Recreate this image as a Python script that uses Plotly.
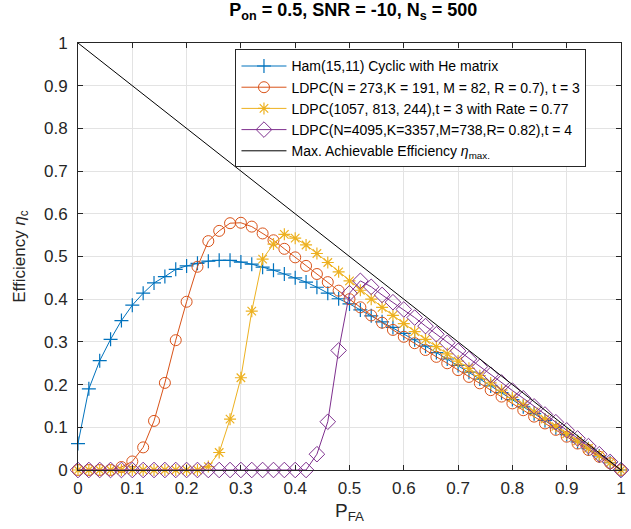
import plotly.graph_objects as go

pfa = [0.00, 0.02, 0.04, 0.06, 0.08, 0.10, 0.12, 0.14, 0.16, 0.18,
       0.20, 0.22, 0.24, 0.26, 0.28, 0.30, 0.32, 0.34, 0.36, 0.38,
       0.40, 0.42, 0.44, 0.46, 0.48, 0.50, 0.52, 0.54, 0.56, 0.58,
       0.60, 0.62, 0.64, 0.66, 0.68, 0.70, 0.72, 0.74, 0.76, 0.78,
       0.80, 0.82, 0.84, 0.86, 0.88, 0.90, 0.92, 0.94, 0.96, 0.98, 1.00]

ham = [0.062, 0.19, 0.256, 0.306, 0.35, 0.386, 0.414, 0.438, 0.453, 0.47,
       0.478, 0.484, 0.489, 0.491, 0.491, 0.487, 0.482, 0.475, 0.468, 0.459,
       0.45, 0.44, 0.428, 0.414, 0.401, 0.389, 0.375, 0.361, 0.347, 0.334,
       0.32, 0.305, 0.29, 0.275, 0.26, 0.245, 0.229, 0.213, 0.197, 0.181,
       0.165, 0.148, 0.132, 0.116, 0.099, 0.083, 0.066, 0.05, 0.033, 0.017, 0.0]

ldpc273 = [0, 0, 0, 0, 0.007, 0.02, 0.053, 0.115, 0.204, 0.304,
           0.394, 0.476, 0.536, 0.56, 0.578, 0.579, 0.57, 0.554, 0.538, 0.518,
           0.498, 0.478, 0.459, 0.44, 0.42, 0.40, 0.381, 0.362, 0.345, 0.328,
           0.312, 0.297, 0.281, 0.265, 0.25, 0.234, 0.218, 0.203, 0.187, 0.172,
           0.156, 0.14, 0.125, 0.109, 0.094, 0.078, 0.062, 0.047, 0.031, 0.016, 0.0]

ldpc1057 = [0, 0, 0, 0, 0, 0, 0, 0, 0, 0,
            0, 0, 0.008, 0.041, 0.119, 0.216, 0.372, 0.494, 0.529, 0.552,
            0.543, 0.527, 0.507, 0.486, 0.464, 0.443, 0.421, 0.40, 0.381, 0.362,
            0.343, 0.324, 0.306, 0.289, 0.272, 0.255, 0.238, 0.221, 0.204, 0.187,
            0.17, 0.153, 0.136, 0.119, 0.102, 0.085, 0.068, 0.051, 0.034, 0.017, 0.0]

ldpc4095 = [0, 0, 0, 0, 0, 0, 0, 0, 0, 0,
            0, 0, 0, 0, 0, 0, 0, 0, 0, 0,
            0, 0, 0.037, 0.113, 0.28, 0.414, 0.443, 0.429, 0.41, 0.393,
            0.376, 0.357, 0.337, 0.318, 0.298, 0.279, 0.26, 0.242, 0.223, 0.205,
            0.186, 0.168, 0.149, 0.13, 0.112, 0.093, 0.074, 0.056, 0.037, 0.019, 0.0]

max_x = [0, 1]
max_y = [1, 0]

names = ["Ham(15,11) Cyclic with He matrix",
         "LDPC(N = 273,K = 191, M = 82, R = 0.7), t = 3",
         "LDPC(1057, 813, 244),t = 3 with Rate = 0.77",
         "LDPC(N=4095,K=3357,M=738,R= 0.82),t = 4",
         "Max. Achievable Efficiency <i>η</i><sub>max.</sub>"]

ticks = [0, 0.1, 0.2, 0.3, 0.4, 0.5, 0.6, 0.7, 0.8, 0.9, 1]
ticktext = ["0", "0.1", "0.2", "0.3", "0.4", "0.5", "0.6", "0.7", "0.8", "0.9", "1"]

fig = go.Figure()
fig.add_trace(go.Scatter(x=pfa, y=ham, name=names[0], mode="lines+markers",
                         line=dict(color="#0072BD", width=1),
                         marker=dict(symbol="cross-thin-open", size=10,
                                     line=dict(color="#0072BD", width=1.2)),
                         cliponaxis=False))
fig.add_trace(go.Scatter(x=pfa, y=ldpc273, name=names[1], mode="lines+markers",
                         line=dict(color="#D95319", width=1),
                         marker=dict(symbol="circle-open", size=11,
                                     line=dict(color="#D95319", width=1)),
                         cliponaxis=False))
fig.add_trace(go.Scatter(x=pfa, y=ldpc1057, name=names[2], mode="lines+markers",
                         line=dict(color="#EDB120", width=1),
                         marker=dict(symbol="asterisk-open", size=10,
                                     line=dict(color="#EDB120", width=1.2)),
                         cliponaxis=False))
fig.add_trace(go.Scatter(x=pfa, y=ldpc4095, name=names[3], mode="lines+markers",
                         line=dict(color="#7E2F8E", width=1),
                         marker=dict(symbol="diamond-open", size=12,
                                     line=dict(color="#7E2F8E", width=1)),
                         cliponaxis=False))
fig.add_trace(go.Scatter(x=max_x, y=max_y, name=names[4], mode="lines",
                         line=dict(color="black", width=1)))

axis_common = dict(range=[0, 1], tickvals=ticks, ticktext=ticktext,
                   showgrid=True, gridcolor="#e3e3e3", gridwidth=1,
                   zeroline=False, showline=True, linecolor="#262626",
                   linewidth=1, mirror="ticks", ticks="inside", ticklen=5,
                   tickcolor="#262626",
                   tickfont=dict(size=17, color="#262626"))

fig.update_layout(
    width=631, height=529,
    margin=dict(l=78, r=5, t=43, b=59),
    paper_bgcolor="white", plot_bgcolor="white",
    font=dict(family="Liberation Sans, Arial, sans-serif", color="#262626"),
    title=dict(text="<b>P<sub>on</sub> = 0.5, SNR = -10, N<sub>s</sub> = 500</b>",
               x=0.56, xanchor="center", y=0.993, yanchor="top",
               font=dict(size=18, color="black")),
    xaxis=dict(axis_common, ticklabelstandoff=3,
               title=dict(text="P<sub>FA</sub>", font=dict(size=19), standoff=6)),
    yaxis=dict(axis_common, ticklabelstandoff=6,
               title=dict(text="Efficiency <i>η</i><sub>c</sub>", font=dict(size=17), standoff=14)),
    legend=dict(x=0.29, y=0.985, xanchor="left", yanchor="top",
                bgcolor="white", bordercolor="#262626", borderwidth=1,
                font=dict(size=14, color="black"), tracegroupgap=0,
                itemwidth=45),
    showlegend=True,
)

fig.write_html("out.html")
